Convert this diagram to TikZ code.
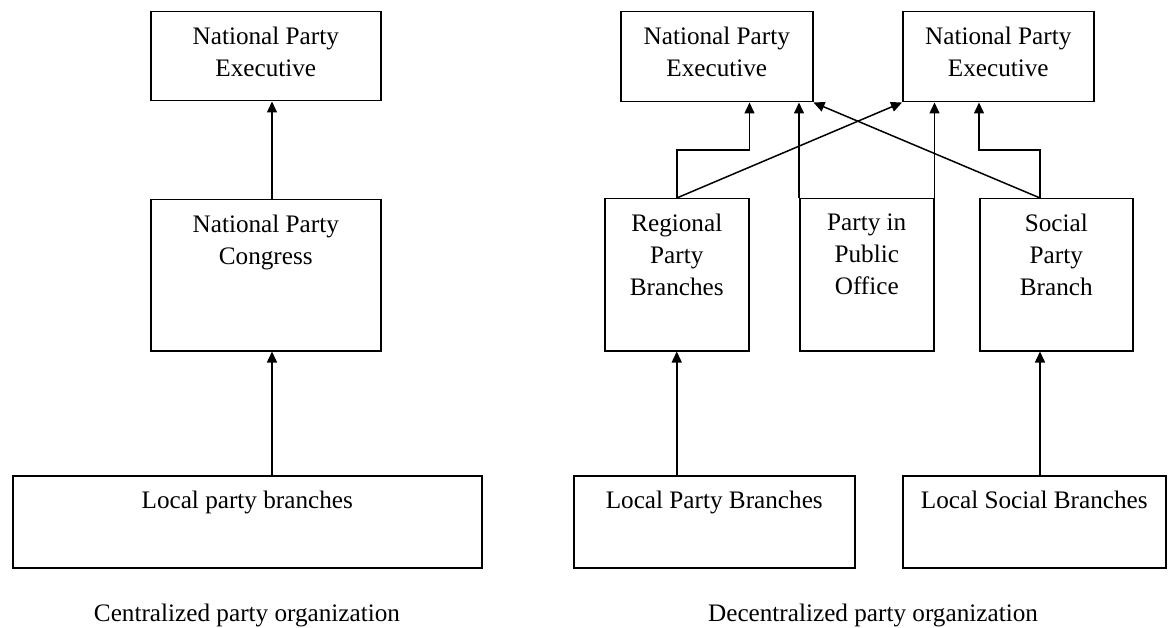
\documentclass[tikz,border=0pt]{standalone}
\usepackage{fontspec}
\setmainfont{Liberation Serif}
\usetikzlibrary{arrows.meta,positioning}

\tikzset{
  box/.style={draw, line width=1.5pt, anchor=north west, inner sep=0pt},
  txt/.style={anchor=north, align=center, inner sep=0pt, yshift=-16pt,
    font=\fontsize{25.2}{32}\selectfont},
  captxt/.style={inner sep=0pt, font=\fontsize{25.2}{32}\selectfont},
  up/.style={-{Triangle[length=11pt,width=10pt]}, line width=1.5pt},
}

\begin{document}
\begin{tikzpicture}[x=1pt,y=-1pt]
\useasboundingbox (0,0) rectangle (1172,628);
% centralized
\node[box,minimum width=230pt,minimum height=89pt,label={[txt]north:{National Party\\Executive}}] (npeC) at (150,11) {};
\node[box,minimum width=230pt,minimum height=151pt,label={[txt]north:{National Party\\Congress}}] (npc) at (150,199) {};
\node[box,minimum width=469pt,minimum height=92pt,label={[txt]north:{Local party branches}}] (localC) at (12,475) {};
\node[captxt] (capC) at (247,615) {Centralized party organization};
\coordinate (cx) at (272,0);
\draw[up] (cx |- localC.north) -- (cx |- npc.south);
\draw[up] (cx |- npc.north) -- (cx |- npeC.south);

% decentralized
\node[box,minimum width=192pt,minimum height=90pt,label={[txt]north:{National Party\\Executive}}] (npeA) at (620,11) {};
\node[box,minimum width=191pt,minimum height=90pt,label={[txt]north:{National Party\\Executive}}] (npeB) at (902,11) {};
\node[box,minimum width=144pt,minimum height=152pt,label={[txt]north:{Regional\\Party\\Branches}}] (regional) at (604,198) {};
\node[box,minimum width=134pt,minimum height=152pt,label={[txt]north:{Party in\\Public\\Office}}] (office) at (799,198) {};
\node[box,minimum width=153pt,minimum height=152pt,label={[txt]north:{Social\\Party\\Branch}}] (social) at (979,198) {};
\node[box,minimum width=281pt,minimum height=92pt,label={[txt]north:{Local Party Branches}}] (localP) at (573,475) {};
\node[box,minimum width=263pt,minimum height=92pt,label={[txt]north:{Local Social Branches}}] (localS) at (902,475) {};
\node[captxt] (capD) at (873,615) {Decentralized party organization};

\coordinate (sx) at (1040,0);
\coordinate (mid) at (0,150);
\draw[up] (regional.south |- localP.north) -- (regional.south);
\draw[up] (sx |- localS.north) -- (sx |- social.south);
\draw[up] (regional.north) |- (mid -| regional.east) -- (regional.east |- npeA.south);
\draw[up] (regional.north) -- (npeB.south west);
\draw[up] (office.north west) -- (office.north west |- npeA.south);
\draw[up] (office.north east) -- (office.north east |- npeB.south);
\draw[up] (sx |- social.north) -- (npeA.south east);
\draw[up] (sx |- social.north) |- (mid -| social.west) -- (social.west |- npeB.south);
\end{tikzpicture}
\end{document}
